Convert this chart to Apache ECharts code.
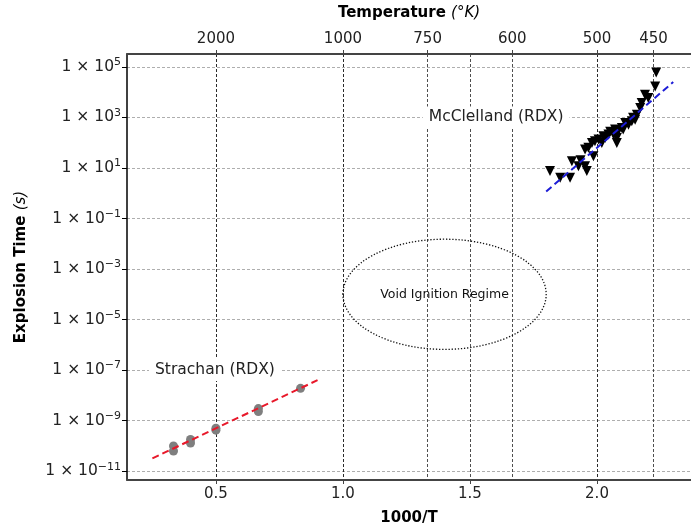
<!DOCTYPE html>
<html>
<head>
<meta charset="utf-8">
<script src="https://cdn.jsdelivr.net/npm/echarts@6/dist/echarts.min.js"></script>
<style>
html,body{margin:0;padding:0;background:#fff;}
#chart{width:691px;height:531px;}
</style>
</head>
<body>
<div id="chart"></div>
<script>
// ---- data ----
var strachanX = [0.333, 0.333, 0.4, 0.4, 0.5, 0.5, 0.667, 0.667, 0.833];
var strachanY = [1.0e-10, 6.3e-11, 1.8e-10, 1.3e-10, 5.0e-10, 4.2e-10, 3.0e-9, 2.3e-9, 1.9e-8];

var mcclellandX = [1.815, 1.855, 1.894, 1.901, 1.927, 1.953, 1.960, 1.953, 1.966, 1.980, 1.992, 1.986,
  2.025, 2.032, 2.006, 2.019, 2.045, 2.065, 2.078, 2.078, 2.071, 2.084, 2.098, 2.111, 2.124, 2.137,
  2.150, 2.157, 2.170, 2.176, 2.202, 2.189, 2.229, 2.233, 2.052, 2.103, 2.142, 1.935];
var mcclellandY = [7.5, 4.1, 4.1, 18.5, 11.8, 11.8, 7.5, 53.6, 62.5, 98, 114, 29,
  179, 155, 133, 98, 209, 209, 155, 98, 329, 282, 384, 604, 518, 698,
  815, 1283, 2355, 3707, 5834, 7870, 16700, 59600, 274, 329, 980, 20];

var strachanFitX = [0.25, 0.9];
var strachanFitY = [3.2e-11, 4.0e-8];
var mcclellandFitX = [1.8, 2.3];
var mcclellandFitY = [1.17, 25000];

var bottomTicks = [0.5, 1.0, 1.5, 2.0];
var topTempTicks = [2000, 1000, 750, 600, 500, 450];
var yTickExponents = [-11, -9, -7, -5, -3, -1, 1, 3, 5];

var FONT = 'DejaVu Sans';

function pairs(xs, ys) { return xs.map(function (x, i) { return [x, ys[i]]; }); }

var chart = echarts.init(document.getElementById('chart'), null, {renderer: 'canvas'});

var vGrid = {show: true, lineStyle: {color: '#222', width: 0.8, type: [3, 2]}};

var option = {
  animation: false,
  backgroundColor: '#fff',
  grid: {left: 127, top: 54, right: 0, bottom: 49, containLabel: false},
  xAxis: [{
    type: 'value', position: 'bottom', min: 0.15, max: 2.37,
    name: '1000/T', nameLocation: 'middle', nameGap: 31,
    nameTextStyle: {fontFamily: FONT, fontWeight: 'bold', fontSize: 15, color: '#000'},
    axisLine: {show: true, onZero: false, lineStyle: {color: '#444', width: 2}},
    axisTick: {show: true, length: 4, customValues: bottomTicks, lineStyle: {color: '#444'}},
    axisLabel: {customValues: bottomTicks, fontFamily: FONT, fontSize: 15, color: '#222', margin: 7,
      formatter: function (v) { return v.toFixed(1); }},
    splitLine: vGrid
  }, {
    type: 'value', position: 'top', min: 0.15, max: 2.37,
    name: '{b|Temperature }{i|(°K)}', nameLocation: 'middle', nameGap: 33,
    nameTextStyle: {rich: {
      b: {fontFamily: FONT, fontWeight: 'bold', fontSize: 15, color: '#000'},
      i: {fontFamily: FONT, fontStyle: 'italic', fontSize: 15, color: '#000'}}},
    axisLine: {show: true, onZero: false, lineStyle: {color: '#444', width: 2}},
    axisTick: {show: true, length: 4, customValues: topTempTicks.map(function (t) { return 1000 / t; }), lineStyle: {color: '#444'}},
    axisLabel: {customValues: topTempTicks.map(function (t) { return 1000 / t; }), fontFamily: FONT, fontSize: 15, color: '#222', margin: 7,
      formatter: function (v) { return String(Math.round(1000 / v)); }},
    splitLine: vGrid
  }],
  yAxis: [{
    type: 'log', logBase: 10, min: Math.pow(10, -11.35), max: Math.pow(10, 5.51),
    name: '{b|Explosion Time }{i|(s)}', nameLocation: 'middle', nameGap: 98,
    nameTextStyle: {rich: {
      b: {fontFamily: FONT, fontWeight: 'bold', fontSize: 15, color: '#000'},
      i: {fontFamily: FONT, fontStyle: 'italic', fontSize: 15, color: '#000'}}},
    axisLine: {show: true, onZero: false, lineStyle: {color: '#000', width: 1.5}},
    axisTick: {show: true, length: 5, customValues: yTickExponents.map(function (e) { return Math.pow(10, e); }), lineStyle: {color: '#000'}},
    axisLabel: {customValues: yTickExponents.map(function (e) { return Math.pow(10, e); }), margin: 6,
      formatter: function (v) {
        var e = Math.round(Math.log10(v));
        return '{b|1 × 10}{s|' + (e < 0 ? '\u2212' : '') + Math.abs(e) + '}';
      },
      rich: {
        b: {fontFamily: FONT, fontSize: 15.5, color: '#222'},
        s: {fontFamily: FONT, fontSize: 11, color: '#222', padding: [0, 0, 9, 0]}
      }},
    splitLine: {show: true, lineStyle: {color: '#999', width: 0.8, type: [3, 2]}},
    minorTick: {show: false}
  }],
  series: [{
    name: 'Strachan', type: 'scatter', data: pairs(strachanX, strachanY),
    symbol: 'circle', symbolSize: 9, itemStyle: {color: '#7f7f7f', opacity: 1}, z: 3
  }, {
    name: 'McClelland', type: 'scatter', data: pairs(mcclellandX, mcclellandY),
    symbol: 'triangle', symbolRotate: 180, symbolSize: 10, itemStyle: {color: '#000', opacity: 1}, z: 3
  }, {
    name: 'Strachan fit', type: 'line', data: pairs(strachanFitX, strachanFitY),
    showSymbol: false, lineStyle: {color: '#e8182a', width: 2, type: [7, 4]}, z: 4
  }, {
    name: 'McClelland fit', type: 'line', data: pairs(mcclellandFitX, mcclellandFitY),
    showSymbol: false, lineStyle: {color: '#1c1cd6', width: 2, type: [7, 4]}, z: 4
  }]
};
chart.setOption(option);

// annotations (data-space anchors converted by the chart's own scales)
function px(x, y) { return chart.convertToPixel({xAxisIndex: 0, yAxisIndex: 0}, [x, y]); }
var ellC = px(1.40, 1e-4);
var ellR = px(1.80, 1e-4);
var ellT = px(1.40, Math.pow(10, -1.82));
var mcc = px(1.603, 1000);
var stc = px(0.496, 1e-7);
chart.setOption({
  graphic: [{
    type: 'ellipse', z: 10,
    shape: {cx: ellC[0], cy: ellC[1], rx: ellR[0] - ellC[0], ry: ellC[1] - ellT[1]},
    style: {fill: null, stroke: '#111', lineWidth: 1.3, lineDash: [1.3, 1.8]}
  }, {
    type: 'text', z: 10, x: ellC[0], y: ellC[1],
    style: {text: 'Void Ignition Regime', font: '12.5px "DejaVu Sans"', fill: '#111', align: 'center', verticalAlign: 'middle'}
  }, {
    type: 'text', z: 10, x: mcc[0], y: mcc[1],
    style: {text: 'McClelland (RDX)', font: '15.5px "DejaVu Sans"', fill: '#222', align: 'center', verticalAlign: 'middle',
      backgroundColor: '#fff', padding: [3, 6]}
  }, {
    type: 'text', z: 10, x: stc[0], y: stc[1],
    style: {text: 'Strachan (RDX)', font: '15.5px "DejaVu Sans"', fill: '#222', align: 'center', verticalAlign: 'middle',
      backgroundColor: '#fff', padding: [3, 6]}
  }]
});
</script>
</body>
</html>
